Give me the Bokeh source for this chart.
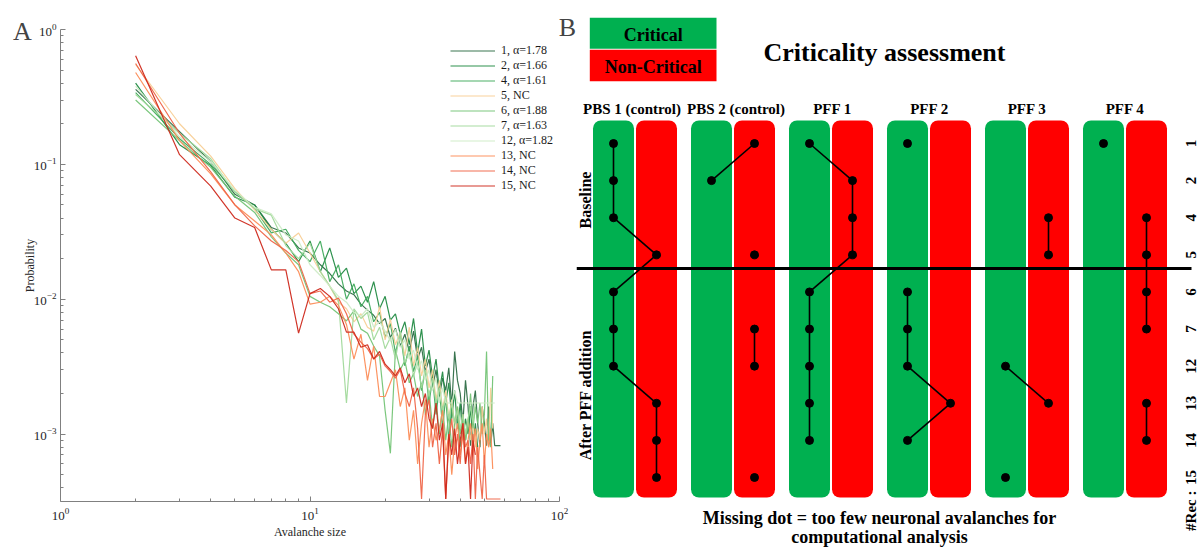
import math
from bokeh.plotting import figure
from bokeh.models import (Range1d, Label, Legend, LegendItem, FixedTicker,
                          LogTickFormatter, LogAxis, LogScale)
from bokeh.layouts import row
from bokeh.embed import file_html
from bokeh.resources import INLINE
from bokeh.core.properties import value

SERIF = "Liberation Serif"

# ---------------- Panel A data ----------------
sizes = [2, 3, 4, 5, 6, 7, 8, 9, 10, 11, 12, 13, 14, 15, 16, 17, 18, 19, 20,
         21, 22, 23, 24, 25, 26, 27, 28, 29, 30, 31, 32, 33, 34, 35, 36, 37,
         38, 39, 40, 41, 42, 43, 44, 45, 46, 47, 48, 49, 50, 51, 52, 53, 54,
         55, 56, 57, 58]

rec1 = [.36, .175, .105, .060, .050, .034, .031, .024, .022, .018, .0155, .013,
        .0115, .0108, .0092, .0083, .0076, .0066, .0072, .0052, .0061, .0045,
        .0055, .0041, .0058, .0036, .0044, .0029, .0036, .0022, .0030, .0019,
        .0026, .0021, .0031, .0016, .0041, .0025, .0020, .0012, .0025, .0016,
        .00082, .0016, .0021, .0012, .0008, .0016, .0012, .00082, .0016,
        .00082, .0012, .00082, .00082, .00082, .00082]
rec2 = [.40, .14, .098, .057, .050, .033, .026, .019, .027, .016, .024, .0145,
        .017, .011, .0125, .0095, .0135, .0085, .0105, .007, .0078, .0055,
        .0068, .0046, .0072, .0040, .0060, .0032, .0042, .0026, .0036, .0021,
        .0029, .0017, .0024, .0013, .0021, .0011, .0017, .0009, .0013, .0010,
        .0016, .0008, .0012, .0008]
rec4 = [.34, .155, .10, .063, .047, .031, .033, .023, .019, .027, .0135, .018,
        .010, .013, .0088, .0105, .0068, .0080, .0052, .0066, .0040, .0056,
        .0032, .0045, .0029, .0038, .0021, .0030, .0017, .0026, .0014, .0022,
        .0011, .0019, .0009, .0016, .0012, .0014, .0008, .0011, .0009, .0012]
rec5 = [.55, .20, .115, .066, .046, .033, .026, .031, .022, .016, .0125, .0095,
        .0085, .0068, .0078, .0062, .0058, .0088, .0050, .0071, .0046, .0057,
        .0038, .0062, .0032, .0044, .0027, .0036, .0022, .0030, .0018, .0025,
        .0015, .0021, .0013, .0018, .0011, .0016, .0010, .0014, .0009, .0013,
        .0009, .0012, .0008, .0011, .0009, .0016, .0010, .0013, .0008, .0022,
        .0011]
rec6 = [.30, .15, .095, .058, .044, .029, .022, .018, .0105, .0095, .0088,
        .0078, .0069, .0082, .0060, .0056, .0045, .0038, .0015, .00072, .0042,
        .0030, .0035, .0024, .0028, .0019, .0024, .0014, .0021, .0011, .0018,
        .0010, .0016, .0009, .0014, .0008, .0012, .0016, .0010, .0013, .0009,
        .0012, .0020, .0011, .0016, .0012, .0017, .0010, .0014, .0041, .0009,
        .0008, .0027]
rec7 = [.33, .17, .11, .062, .047, .042, .025, .020, .026, .016, .0125, .0098,
        .0017, .0085, .0072, .0080, .0050, .0062, .0043, .0052, .0036, .0058,
        .0034, .0040, .0027, .0034, .0022, .0030, .0019, .0026, .0017, .0022,
        .0015, .0019, .0013, .0017, .0012, .0015, .0011, .0014, .0010, .0013,
        .0016, .0012, .0017]
rec12 = [.38, .16, .105, .064, .048, .043, .030, .027, .018, .015, .0125,
         .0105, .0095, .0080, .0075, .0085, .0062, .0068, .0058, .0049, .0060,
         .0044, .0050, .0036, .0042, .0030, .0035, .0025, .0030, .0021, .0026,
         .0017, .0022, .0017, .0017, .0017, .0021, .0017, .0017, .0017, .0017,
         .0017, .0017, .0017, .0017, .0017, .0017, .0017, .0017, .0017, .0017,
         .0017, .0017, .0017]
rec13 = [.48, .15, .085, .050, .038, .030, .022, .016, .0092, .0095, .0105,
         .0090, .0065, .0036, .0055, .0025, .0045, .0019, .0019, .0024, .0030,
         .0016, .0022, .0009, .0015, .0006, .0012, .0018, .0008, .0013, .0009,
         .0011, .0015, .0007, .0010, .0005, .0009, .0012, .0007, .0010, .0006,
         .0009, .0012, .0008, .0011, .00055, .0009, .0012, .0006, .0010, .0008,
         .0011, .00055]
rec14 = [.56, .17, .088, .050, .035, .027, .023, .019, .011, .0115, .0095,
         .0102, .0078, .0055, .0048, .0043, .0036, .0039, .0032, .0029, .0026,
         .0030, .0020, .0016, .0022, .0011, .00033, .0014, .0018, .0008, .0012,
         .0006, .0011, .00033, .0009, .0013, .0007, .0010, .0006, .0012, .0008,
         .0009, .0006, .0010, .00033, .0008, .0005, .00033, .0007, .00033,
         .00033, .00033, .00033, .00033, .00033, .00033, .00033]
rec15 = [.64, .118, .069, .040, .034, .0165, .0165, .0056, .011, .012, .0105,
         .0085, .0057, .0057, .0044, .0046, .0036, .0041, .0033, .0030, .0027,
         .0031, .0024, .0028, .0019, .0022, .0016, .0020, .0013, .0011, .0017,
         .0009, .0012, .00033, .0010, .0007, .0011, .0006, .0009, .0012, .0006,
         .0008, .00033, .0009, .0007]

series_labels = ["1, \u03b1=1.78", "2, \u03b1=1.66", "4, \u03b1=1.61", "5, NC",
                 "6, \u03b1=1.88", "7, \u03b1=1.63", "12, \u03b1=1.82",
                 "13, NC", "14, NC", "15, NC"]
series_values = [rec1, rec2, rec4, rec5, rec6, rec7, rec12, rec13, rec14, rec15]
series_colors = ["#2f6e47", "#238b45", "#41ab5d", "#f8cf96", "#74c476",
                 "#a1d99b", "#cdebc6", "#fc8d59", "#ef6548", "#cf2a1e"]

y_major = [1e-3, 1e-2, 1e-1, 1]
x_major = [1, 10, 100]

# ---------------- Panel B data ----------------
groups = ["PBS 1 (control)", "PBS 2 (control)", "PFF 1", "PFF 2", "PFF 3", "PFF 4"]
recs = ["1", "2", "4", "5", "6", "7", "12", "13", "14", "15"]
# C = critical, N = non-critical, "" = missing dot
pbs1 = ["C", "C", "C", "N", "C", "C", "C", "N", "N", "N"]
pbs2 = ["N", "C", "", "N", "", "N", "N", "", "", "N"]
pff1 = ["C", "N", "N", "N", "C", "C", "C", "C", "C", ""]
pff2 = ["C", "", "", "", "C", "C", "C", "N", "C", ""]
pff3 = ["", "", "N", "N", "", "", "C", "N", "", "C"]
pff4 = ["C", "", "N", "N", "N", "N", "", "N", "N", ""]
group_states = [pbs1, pbs2, pff1, pff2, pff3, pff4]
n_baseline = 4  # recordings 1, 2, 4, 5 are baseline

GREEN = "#00b050"
RED = "#ff0000"
AXIS_GRAY = "#808080"
TXT = "#262626"

H = 548
WA = 576
WTOT = 1198

# ================= Panel A =================
pA = figure(width=WA, height=H, x_axis_type=None, y_axis_type=None,
            x_range=Range1d(1, 100), y_range=Range1d(10 ** -3.5, 1),
            output_backend="svg", toolbar_location=None,
            min_border_left=60, min_border_right=14, min_border_top=27,
            min_border_bottom=47)
pA.x_scale = LogScale()
pA.y_scale = LogScale()
pA.outline_line_color = None
pA.background_fill_color = "white"
pA.border_fill_color = "white"

minor_y = [k * 10.0 ** e for e in range(-4, 0) for k in range(2, 10)]
minor_x = [k * 10.0 ** e for e in range(0, 2) for k in range(2, 10)]

yax = LogAxis(ticker=FixedTicker(ticks=y_major, minor_ticks=minor_y),
              formatter=LogTickFormatter(), axis_label="Probability")
xax = LogAxis(ticker=FixedTicker(ticks=x_major, minor_ticks=minor_x),
              formatter=LogTickFormatter(), axis_label="Avalanche size")
for ax in (xax, yax):
    ax.axis_line_color = AXIS_GRAY
    ax.major_tick_line_color = AXIS_GRAY
    ax.minor_tick_line_color = AXIS_GRAY
    ax.major_tick_in = 5
    ax.major_tick_out = 0
    ax.minor_tick_in = 3
    ax.minor_tick_out = 0
    ax.major_label_text_font = SERIF
    ax.major_label_text_font_size = "13px"
    ax.major_label_text_color = TXT
    ax.axis_label_text_font = SERIF
    ax.axis_label_text_font_size = "12px"
    ax.axis_label_text_font_style = "normal"
    ax.axis_label_text_color = TXT
yax.major_label_standoff = 4
yax.axis_label_standoff = -6
xax.major_label_standoff = 6
xax.axis_label_standoff = 2
pA.add_layout(yax, "left")
pA.add_layout(xax, "below")

items = []
for lab, vals, col in zip(series_labels, series_values, series_colors):
    r = pA.line(sizes[:len(vals)], vals, line_color=col, line_width=1.2,
                line_alpha=0.95)
    items.append(LegendItem(label=lab, renderers=[r]))

leg = Legend(items=items, location=(390, 308), padding=0, margin=0,
             border_line_color=None, background_fill_alpha=0,
             label_text_font=SERIF, label_text_font_size="12px",
             label_text_color="#1a1a1a", glyph_width=45, glyph_height=15,
             label_height=15, spacing=0, label_standoff=6)
pA.add_layout(leg)

# panel letters (placed in side panels so they are not clipped to the frame)
pA.add_layout(Label(x=-38, y=-2, x_units="screen", y_units="screen", text="A",
                    text_font=SERIF, text_font_size="26px",
                    text_align="center", text_baseline="middle"), "above")
pA.add_layout(Label(x=8, y=474, x_units="screen", y_units="screen", text="B",
                    text_font=SERIF, text_font_size="26px",
                    text_align="center", text_baseline="middle"), "right")

# ================= Panel B =================
# x and y of panel B are in page pixels (x from WA to WTOT, y downwards)
WB = WTOT - WA
pB = figure(width=WB, height=H, x_range=Range1d(WA, WTOT), y_range=Range1d(H, 0),
            x_axis_type=None, y_axis_type=None, output_backend="svg",
            toolbar_location=None, min_border=0)
pB.outline_line_color = None
pB.grid.visible = False
pB.background_fill_color = "white"
pB.border_fill_color = "white"

for fig in (pA, pB):
    if "frame_align" in fig.properties():
        fig.frame_align = False

G0, GP, HALF, BW = 634.5, 98.0, 21.5, 41.0
R0, RP = 143.0, 37.11
BAR_TOP, BAR_BOT = 120.0, 497.0
HEADER_NUDGE = [-3.0, 3.0, 1.5, 0.5, 0.0, 0.0]


def gx(i, state):
    return G0 + GP * i + (-HALF if state == "C" else HALF)


def ry(k):
    return R0 + RP * k


# bars
for i in range(len(groups)):
    for st, col in (("C", GREEN), ("N", RED)):
        cx = gx(i, st)
        pB.quad(left=cx - BW / 2, right=cx + BW / 2, top=BAR_TOP, bottom=BAR_BOT,
                fill_color=col, line_color=None, border_radius=8)

# group headers
pB.text(x=[G0 + GP * i + HEADER_NUDGE[i] for i in range(len(groups))],
        y=[108.7] * len(groups),
        text=groups, text_font=value(SERIF), text_font_size="15px",
        text_font_style="bold", text_align="center",
        text_baseline="middle", text_color="black")

# separator baseline / after
sep_y = ry(n_baseline - 1) + 0.37 * RP
pB.segment(x0=[WA], y0=[sep_y], x1=[1191], y1=[sep_y], line_color="black",
           line_width=3)

# dots and connecting lines
for i, st in enumerate(group_states):
    x0s, y0s, x1s, y1s = [], [], [], []
    for k in range(len(st) - 1):
        if st[k] and st[k + 1]:
            x0s.append(gx(i, st[k])); y0s.append(ry(k))
            x1s.append(gx(i, st[k + 1])); y1s.append(ry(k + 1))
    if x0s:
        pB.segment(x0=x0s, y0=y0s, x1=x1s, y1=y1s, line_color="black",
                   line_width=1.6)
    dx = [gx(i, s) for s in st if s]
    dy = [ry(k) for k, s in enumerate(st) if s]
    pB.scatter(dx, dy, size=8, fill_color="black", line_color="black")

# recording labels on the right
pB.text(x=[1190] * len(recs), y=[ry(k) for k in range(len(recs))], text=recs,
        angle=math.pi / 2, text_font=value(SERIF), text_font_size="15px",
        text_font_style="bold", text_align="center", text_baseline="middle",
        text_color="black")
pB.text(x=[1190], y=[ry(len(recs) - 1) + 13], text=["#Rec :"], angle=math.pi / 2,
        text_font=value(SERIF), text_font_size="15px", text_font_style="bold",
        text_align="right", text_baseline="middle", text_color="black")

# phase labels
pB.text(x=[585, 585], y=[199.5, 394.5], text=["Baseline", "After PFF addition"],
        angle=math.pi / 2, text_font=value(SERIF), text_font_size="16px",
        text_font_style="bold", text_align="center", text_baseline="middle",
        text_color="black")

# legend boxes
pB.quad(left=[589.3, 589.3], right=[716.0, 716.0], top=[17.3, 49.3],
        bottom=[48.3, 80.7], fill_color=[GREEN, RED], line_color=None)
pB.text(x=[652.7, 652.7], y=[34.5, 66.8], text=["Critical", "Non-Critical"],
        text_font=value(SERIF), text_font_size="18px", text_font_style="bold",
        text_align="center", text_baseline="middle", text_color="black")

# title
pB.text(x=[884], y=[52.2], text=["Criticality assessment"],
        text_font=value(SERIF), text_font_size="26px", text_font_style="bold",
        text_align="center", text_baseline="middle", text_color="black")

# footer
pB.text(x=[879, 879], y=[517, 536.5],
        text=["Missing dot = too few neuronal avalanches for",
              "computational analysis"],
        text_font=value(SERIF), text_font_size="18px", text_font_style="bold",
        text_align="center", text_baseline="middle", text_color="black")

layout = row(pA, pB)
open("out.html", "w").write(file_html(layout, INLINE))
